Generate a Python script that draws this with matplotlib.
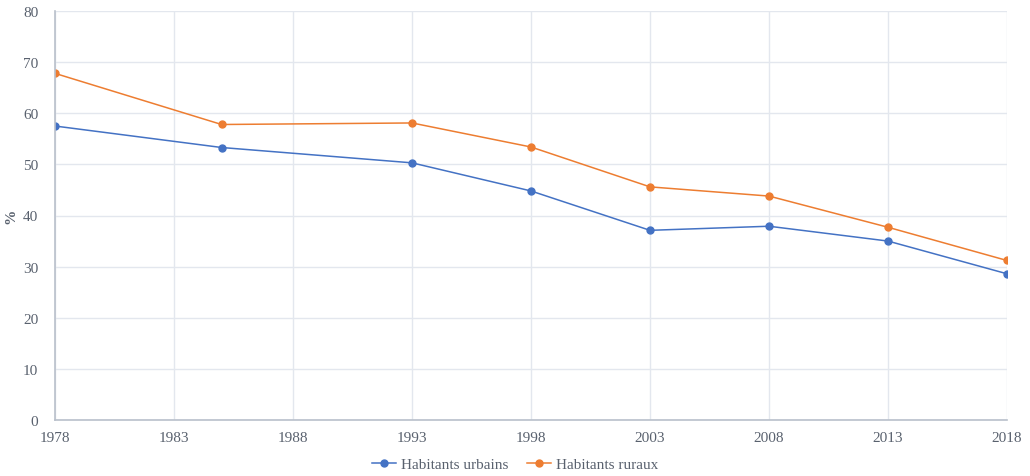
import matplotlib.pyplot as plt

years = [1978, 1985, 1993, 1998, 2003, 2008, 2013, 2018]
urbains = [57.5, 53.3, 50.3, 44.8, 37.1, 37.9, 35.0, 28.6]
ruraux = [67.8, 57.8, 58.1, 53.4, 45.6, 43.8, 37.7, 31.2]
xticks = list(range(1978, 2019, 5))
yticks = list(range(0, 81, 10))

plt.rcParams['font.family'] = ['Liberation Serif', 'DejaVu Serif']
text_color = '#59616e'
grid_color = '#e3e7ee'

fig = plt.figure(figsize=(10.3, 4.77), dpi=100)
ax = fig.add_axes([55 / 1030, 1 - 421 / 477, (1007 - 55) / 1030, (421 - 12) / 477])

ax.plot(years, urbains, color='#4472C4', marker='o', markersize=5, linewidth=1.1,
        label='Habitants urbains')
ax.plot(years, ruraux, color='#ED7D31', marker='o', markersize=5, linewidth=1.1,
        label='Habitants ruraux')

ax.set_xlim(1978, 2018)
ax.set_ylim(0, 80)
ax.set_xticks(xticks)
ax.set_yticks(yticks)
ax.grid(True, color=grid_color, linewidth=1)
ax.set_axisbelow(True)

for side in ['top', 'right']:
    ax.spines[side].set_visible(False)
for side in ['left', 'bottom']:
    ax.spines[side].set_color('#b9c0cb')
    ax.spines[side].set_linewidth(1.2)

ax.tick_params(length=0, labelsize=11, colors=text_color)
ax.tick_params(axis='x', pad=8)
ax.tick_params(axis='y', pad=12)
ax.set_ylabel('%', fontsize=11, color=text_color, fontweight='bold')
ax.yaxis.set_label_coords(-0.039, 0.5)

fig.legend(loc='center', bbox_to_anchor=(0.5, 1 - 465 / 477), ncol=2, frameon=False,
           fontsize=11, labelcolor=text_color, handlelength=1.6, handletextpad=0.3,
           columnspacing=1.2)

fig.savefig('out.png', dpi=100)
